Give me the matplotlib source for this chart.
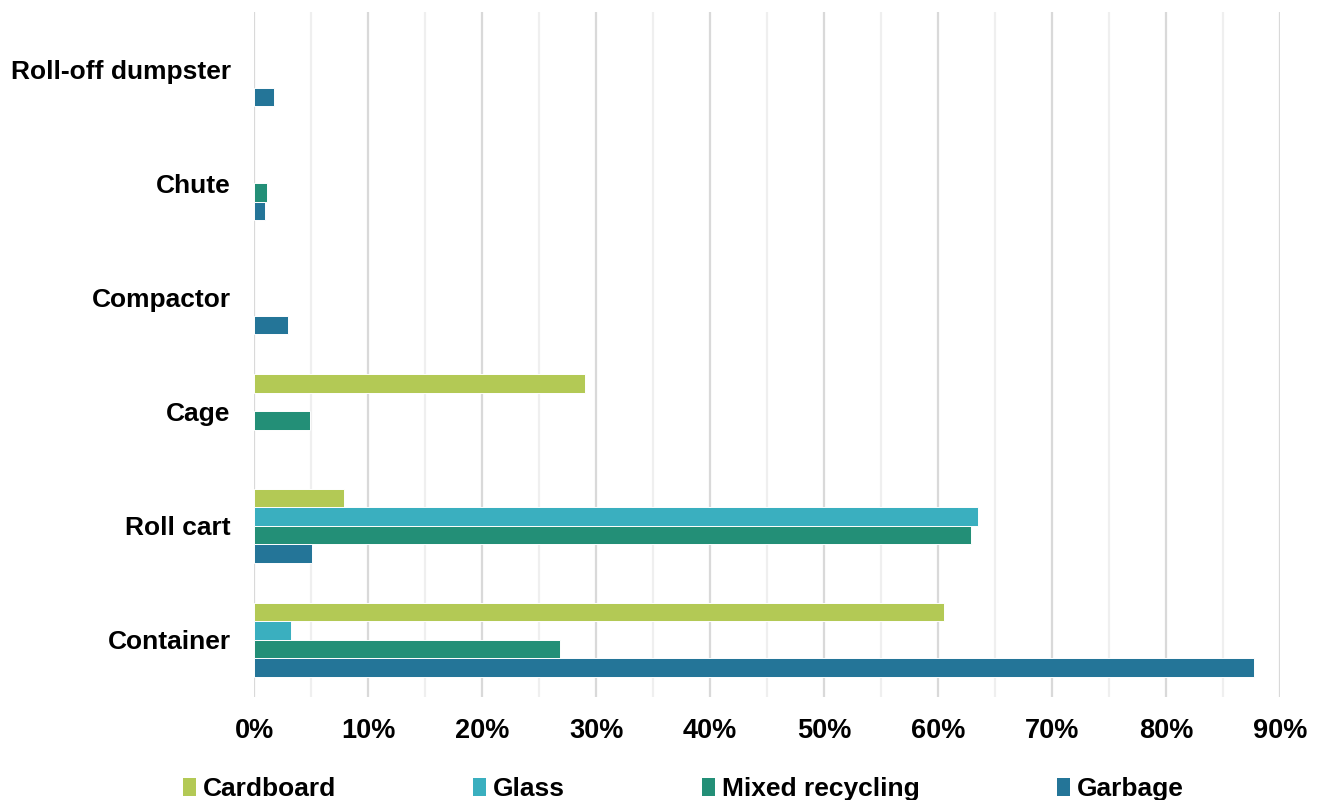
import numpy as np
import matplotlib
matplotlib.use('Agg')
import matplotlib.pyplot as plt
from matplotlib.patches import Patch
from matplotlib.ticker import MultipleLocator, FuncFormatter

plt.rcParams['font.family'] = ['Liberation Sans', 'DejaVu Sans']
plt.rcParams['font.weight'] = 'bold'

# Categories listed bottom to top
categories = ['Container', 'Roll cart', 'Cage', 'Compactor', 'Chute', 'Roll-off dumpster']
series = ['Cardboard', 'Glass', 'Mixed recycling', 'Garbage']
colors = ['#b3c955', '#3aafbf', '#238f77', '#247598']

# Share of buildings (%) per series, same order as categories
cardboard = [60.5, 7.9, 29.0, 0, 0, 0]
glass = [3.2, 63.5, 0, 0, 0, 0]
mixed_recycling = [26.8, 62.9, 4.9, 0, 1.1, 0]
garbage = [87.7, 5.1, 0, 3.0, 0.9, 1.7]
values = [cardboard, glass, mixed_recycling, garbage]

fig = plt.figure(figsize=(13.19, 8), dpi=100)
ax = fig.add_axes([0.1928, 0.129, 0.7777, 0.856])

y = np.arange(len(categories))
h = 0.162
offsets = [1.5 * h, 0.5 * h, -0.5 * h, -1.5 * h]
for vals, off, col in zip(values, offsets, colors):
    vals = np.array(vals, dtype=float)
    keep = vals > 0  # empty bars would leave a white outline on the 0% line
    ax.barh(y[keep] + off, vals[keep], height=h, color=col, edgecolor='white',
            linewidth=0.7, zorder=3)

ax.set_xlim(0, 90)
ax.set_ylim(-0.5, len(categories) - 0.5)
ax.xaxis.set_major_locator(MultipleLocator(10))
ax.xaxis.set_minor_locator(MultipleLocator(5))
ax.xaxis.set_major_formatter(FuncFormatter(lambda v, _: f'{v:.0f}%'))
ax.grid(axis='x', which='major', color='#d9d9d9', linewidth=1.6, zorder=0)
ax.grid(axis='x', which='minor', color='#efefef', linewidth=1.6, zorder=0)
ax.set_axisbelow(True)

ax.set_yticks(y)
ax.set_yticklabels(categories)
ax.tick_params(axis='y', length=0, pad=17, labelsize=19)
ax.tick_params(axis='x', which='both', length=0, pad=15, labelsize=19.5)
for s in ax.spines.values():
    s.set_visible(False)

handles = [Patch(facecolor=c, edgecolor='none') for c in colors]
fig.legend(handles, series, loc='center', bbox_to_anchor=(0.518, 1 - 789 / 800),
           ncol=4, frameon=False, fontsize=19, handlelength=0.5, handleheight=0.7,
           handletextpad=0.25, columnspacing=5.2)

fig.savefig('out.png', dpi=100)
